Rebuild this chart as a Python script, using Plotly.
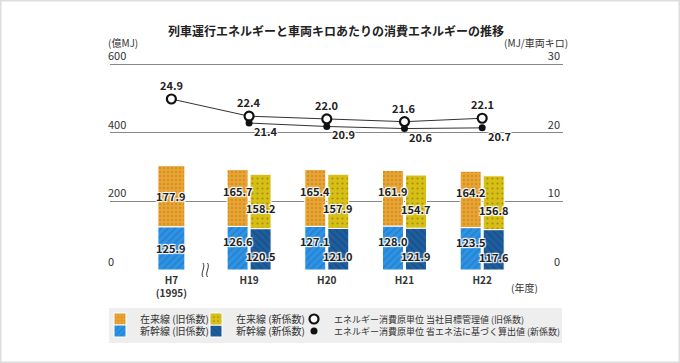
import plotly.graph_objects as go

# ---------------- data ----------------
categories = ["H7<br>(1995)", "H19", "H20", "H21", "H22"]
zairai_old = [177.9, 165.7, 165.4, 161.9, 164.2]     # 在来線（旧係数）
shinkan_old = [125.9, 126.6, 127.1, 128.0, 123.5]    # 新幹線（旧係数）
zairai_new = [158.2, 157.9, 154.7, 156.8]            # 在来線（新係数） H19-H22
shinkan_new = [120.5, 121.0, 121.9, 117.6]           # 新幹線（新係数） H19-H22
unit_old = [24.9, 22.4, 22.0, 21.6, 22.1]            # 当社目標管理値（旧係数）
unit_new = [21.4, 20.9, 20.6, 20.7]                  # 省エネ法に基づく算出値（新係数）

names = {
    "zo": "在来線 (旧係数)",
    "zn": "在来線 (新係数)",
    "so": "新幹線 (旧係数)",
    "sn": "新幹線 (新係数)",
    "uo": "エネルギー消費原単位 当社目標管理値 (旧係数)",
    "un": "エネルギー消費原単位 省エネ法に基づく算出値 (新係数)",
}

# ---------------- geometry ----------------
W, H = 680, 363
L, R, T, B = 110, 563, 46, 270
Y600 = 64                                   # pixel row of the 600 / 30 gridline
def px(X): return (X - L) / (R - L)
def py(Y): return (B - Y) / (B - T)
y_top = 600 * (B - T) / (B - Y600)
y2_top = 30 * (B - T) / (B - Y600)

FONT = "Noto Sans CJK JP"
x_all = list(range(len(categories)))
x_new = x_all[1:]

w_single, w_pair, half_gap = 0.347, 0.27, 0.148
old_width = [w_single] + [w_pair] * (len(categories) - 1)
old_offset = [-w_single / 2] + [-(half_gap + w_pair / 2)] * (len(categories) - 1)
new_offset = [half_gap - w_pair / 2] * len(x_new)

C_OR, C_OR_FG = "#E9A332", "#A86A12"
C_YE, C_YE_FG = "#D7BF16", "#6E6000"
C_LB, C_LB_FG = "#2E93E2", "#1A6CC0"
C_DB, C_DB_FG = "#1F5E9E", "#123F70"

def pat(shape, fg, size, sol):
    return dict(shape=shape, fgcolor=fg, size=size, solidity=sol, fillmode="overlay")

fig = go.Figure()

fig.add_trace(go.Bar(x=x_all, y=shinkan_old, width=old_width, offset=old_offset,
                     name=names["so"], legend="legend4",
                     marker=dict(color=C_LB, line=dict(color="white", width=1),
                                 pattern=pat("/", C_LB_FG, 5, 0.3))))
fig.add_trace(go.Bar(x=x_all, y=zairai_old, base=shinkan_old, width=old_width, offset=old_offset,
                     name=names["zo"], legend="legend",
                     marker=dict(color=C_OR, line=dict(color="white", width=1),
                                 pattern=pat(".", C_OR_FG, 4, 0.18))))
fig.add_trace(go.Bar(x=x_new, y=shinkan_new, width=w_pair, offset=new_offset,
                     name=names["sn"], legend="legend5",
                     marker=dict(color=C_DB, line=dict(color="white", width=1),
                                 pattern=pat("\\", C_DB_FG, 5, 0.3))))
fig.add_trace(go.Bar(x=x_new, y=zairai_new, base=shinkan_new, width=w_pair, offset=new_offset,
                     name=names["zn"], legend="legend2",
                     marker=dict(color=C_YE, line=dict(color="white", width=1),
                                 pattern=pat(".", C_YE_FG, 5, 0.15))))

fig.add_trace(go.Scatter(x=x_all, y=unit_old, yaxis="y2", mode="lines+markers", showlegend=False,
                         line=dict(color="#333333", width=1),
                         marker=dict(symbol="circle", size=9, color="white",
                                     line=dict(color="#111111", width=2.2))))
fig.add_trace(go.Scatter(x=x_new, y=unit_new, yaxis="y2", mode="lines+markers", showlegend=False,
                         line=dict(color="#333333", width=1),
                         marker=dict(symbol="circle", size=7, color="#111111")))
fig.add_trace(go.Scatter(x=[None], y=[None], yaxis="y2", mode="markers", name=names["uo"],
                         legend="legend3",
                         marker=dict(symbol="circle", size=9, color="white",
                                     line=dict(color="#111111", width=2.2))))
fig.add_trace(go.Scatter(x=[None], y=[None], yaxis="y2", mode="markers", name=names["un"],
                         legend="legend6",
                         marker=dict(symbol="circle", size=7, color="#111111")))

SHADOW = "1px 1px 1px #fff, -1px -1px 1px #fff, 1px -1px 1px #fff, -1px 1px 1px #fff, 0px 0px 2px #fff"
lab_font = dict(family=FONT, size=11, color="#222222", weight="bold", shadow=SHADOW)

ann = []
for i, x in enumerate(x_all):
    xc = x + (0 if i == 0 else -half_gap)
    ys = 0 if i == 0 else 7
    ann.append(dict(x=xc, y=shinkan_old[i] / 2, text=f"{shinkan_old[i]:.1f}", showarrow=False,
                    yshift=ys, font=lab_font))
    ann.append(dict(x=xc, y=shinkan_old[i] + zairai_old[i] / 2, text=f"{zairai_old[i]:.1f}",
                    showarrow=False, yshift=ys, font=lab_font))
for i, x in enumerate(x_new):
    xc = x + half_gap
    ann.append(dict(x=xc, y=shinkan_new[i] / 2, text=f"{shinkan_new[i]:.1f}", showarrow=False,
                    yshift=-7, font=lab_font))
    ann.append(dict(x=xc, y=shinkan_new[i] + zairai_new[i] / 2, text=f"{zairai_new[i]:.1f}",
                    showarrow=False, yshift=-7, font=lab_font))
for i, x in enumerate(x_all):
    ann.append(dict(x=x, y=unit_old[i], yref="y2", text=f"{unit_old[i]:.1f}", showarrow=False,
                    yshift=14, font=lab_font))
for i, x in enumerate(x_new):
    ann.append(dict(x=x, y=unit_new[i], yref="y2", text=f"{unit_new[i]:.1f}", showarrow=False,
                    xshift=17, yshift=-8, font=lab_font))

small = dict(family=FONT, size=10, color="#333333")
ann += [
    dict(xref="paper", yref="paper", x=0.5 * (px(175) + px(497)), y=py(30),
         xanchor="center", yanchor="middle",
         text="<b>列車運行エネルギーと車両キロあたりの消費エネルギーの推移</b>", showarrow=False,
         font=dict(family=FONT, size=12, color="#222222")),
    dict(xref="paper", yref="paper", x=px(106), y=py(43), xanchor="left", yanchor="middle",
         text="(億MJ)", showarrow=False, font=small),
    dict(xref="paper", yref="paper", x=px(570), y=py(43), xanchor="right", yanchor="middle",
         text="(MJ/車両キロ)", showarrow=False, font=small),
    dict(xref="paper", yref="paper", x=px(524), y=py(287), xanchor="center", yanchor="middle",
         text="(年度)", showarrow=False, font=small),
]

shapes = [
    dict(type="rect", xref="paper", yref="paper", x0=px(0.5), x1=px(679.5), y0=py(0.5), y1=py(362.5),
         line=dict(color="#dddddd", width=2), fillcolor="rgba(0,0,0,0)"),
    dict(type="rect", xref="paper", yref="paper", x0=px(109), x1=px(562), y0=py(308), y1=py(343),
         line=dict(width=0), fillcolor="#eeeeee", layer="below"),
]
for X0 in (203, 207.5):
    y0, y1 = 263, 277
    path = (f"M {px(X0)},{py(y0)} C {px(X0 + 3)},{py(y0 + 4)} {px(X0 - 3)},{py(y1 - 4)} "
            f"{px(X0)},{py(y1)}")
    shapes.append(dict(type="path", xref="paper", yref="paper", path=path,
                       line=dict(color="#333333", width=1)))

def leg(X, Y, size=10):
    return dict(x=px(X), y=py(Y), xanchor="left", yanchor="middle", orientation="h",
                bgcolor="rgba(0,0,0,0)", font=dict(family=FONT, size=size, color="#333333"),
                itemwidth=30)

fig.update_layout(
    width=W, height=H,
    margin=dict(l=L, r=W - R, t=T, b=H - B, pad=0),
    paper_bgcolor="white", plot_bgcolor="white",
    barmode="overlay",
    font=dict(family=FONT, size=11, color="#333333"),
    xaxis=dict(range=[-0.79, 5.04], tickvals=x_all, ticktext=categories, showgrid=False,
               zeroline=False, showline=False, ticks="", ticklabelstandoff=3,
               tickfont=dict(family=FONT, size=10, color="#333333", weight="bold")),
    yaxis=dict(range=[0, y_top], tickvals=[0, 200, 400, 600], showgrid=True, gridcolor="#888888",
               gridwidth=1, zeroline=False, showline=False, ticks="", ticklabelposition="inside top",
               ticklabelstandoff=-5,
               tickfont=dict(family=FONT, size=11, color="#333333")),
    yaxis2=dict(range=[0, y2_top], tickvals=[0, 10, 20, 30], overlaying="y", side="right",
                showgrid=False, zeroline=False, showline=False, ticks="",
                ticklabelposition="inside top",
                tickfont=dict(family=FONT, size=11, color="#333333")),
    annotations=ann, shapes=shapes,
    legend=leg(100, 319), legend2=leg(196, 319), legend3=leg(294, 319, 9),
    legend4=leg(100, 331), legend5=leg(196, 331), legend6=leg(294, 331, 9),
)

fig.write_html("out.html", config={"displayModeBar": False},
               post_script="document.body.style.margin='0';document.body.style.overflow='hidden';")
